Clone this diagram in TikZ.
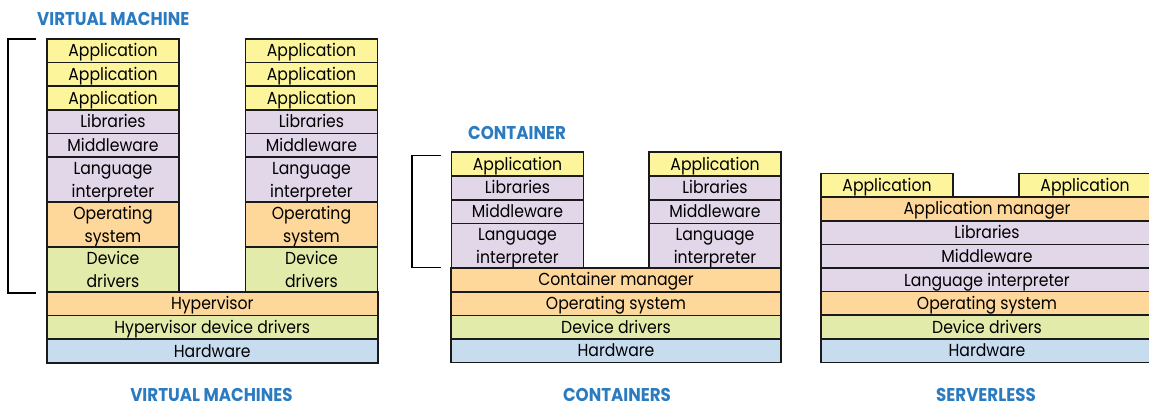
\documentclass[tikz,border=0pt]{standalone}
\usepackage{fontspec}
\setmainfont{Poppins}[FakeStretch=0.9]
\definecolor{cyel}{HTML}{FDF59C}
\definecolor{cpur}{HTML}{E2D6E9}
\definecolor{cora}{HTML}{FED79B}
\definecolor{cgre}{HTML}{E3EBAA}
\definecolor{cblu}{HTML}{C8DCF0}
\definecolor{ctitle}{HTML}{2B7BC1}
\definecolor{cline}{HTML}{1A1A1A}
\tikzset{
  layer/.style={draw=cline, line width=1.6pt, inner sep=0pt, outer sep=0pt, align=center,
    font=\fontsize{17.4}{23}\selectfont, text=black, text height=12.2pt, text depth=0pt},
  one/.style={minimum height=23.5},
  two/.style={minimum height=45, text height=35.2pt, text depth=0pt},
  narrow/.style={minimum width=132},
  wide/.style={minimum width=331},
  app/.style={layer, fill=cyel},
  pur/.style={layer, fill=cpur},
  ora/.style={layer, fill=cora},
  gre/.style={layer, fill=cgre},
  blu/.style={layer, fill=cblu},
  title/.style={font=\bfseries\fontsize{18.5}{20}\selectfont, text=ctitle, inner sep=0pt,
    text height=12.8pt, text depth=0pt},
  bracket/.style={draw=black, line width=1.6pt}
}
\begin{document}
\begin{tikzpicture}[x=1pt,y=-1pt]
\useasboundingbox (0,0) rectangle (1149,403);
% ---------- Virtual machines ----------
\node[title, anchor=west] (vmt) at (37,19) {VIRTUAL MACHINE};
\foreach \cx/\p in {113/l,311.5/r}{
  \node[app,one,narrow] (vm\p a1) at (\cx,50.75) {Application};
  \node[app,one,narrow] (vm\p a2) at (\cx,74.25) {Application};
  \node[app,one,narrow] (vm\p a3) at (\cx,98) {Application};
  \node[pur,one,narrow] (vm\p lib) at (\cx,121.75) {Libraries};
  \node[pur,one,narrow] (vm\p mid) at (\cx,145.25) {Middleware};
  \node[pur,two,narrow] (vm\p li) at (\cx,179.5) {Language\\interpreter};
  \node[ora,two,narrow] (vm\p os) at (\cx,224.5) {Operating\\system};
  \node[gre,two,narrow] (vm\p dd) at (\cx,269.5) {Device\\drivers};
}
\node[ora,one,wide] (hyp) at (212.25,303.75) {Hypervisor};
\node[gre,one,wide] (hdd) at (212.25,327.25) {Hypervisor device drivers};
\node[blu,one,wide] (vmhw) at (212.25,351) {Hardware};
\coordinate (vmb1) at (36,39);
\coordinate (vmb2) at (36,293);
\draw[bracket] (vmb1) -- (8,39) -- (8,293) -- (vmb2);
\node[title] (vmlabel) at (211.5,395) {VIRTUAL MACHINES};
% ---------- Containers ----------
\node[title, anchor=west] (ct) at (468,133) {CONTAINER};
\foreach \cx/\p in {517.5/l,715/r}{
  \node[app,one,narrow] (c\p a) at (\cx,164) {Application};
  \node[pur,one,narrow] (c\p lib) at (\cx,187.85) {Libraries};
  \node[pur,one,narrow] (c\p mid) at (\cx,211.7) {Middleware};
  \node[pur,two,narrow,minimum height=44] (c\p li) at (\cx,245.7) {Language\\interpreter};
}
\node[ora,one,wide,minimum width=330] (cm) at (616,279.85) {Container manager};
\node[ora,one,wide,minimum width=330] (cos) at (616,303.65) {Operating system};
\node[gre,one,wide,minimum width=330] (cdd) at (616,327.15) {Device drivers};
\node[blu,one,wide,minimum width=330] (chw) at (616,350.85) {Hardware};
\coordinate (cb1) at (441,155.7);
\coordinate (cb2) at (441,267.7);
\draw[bracket] (cb1) -- (412,155.7) -- (412,267.7) -- (cb2);
\node[title] (clabel) at (617,395) {CONTAINERS};
% ---------- Serverless ----------
\node[app,one,narrow,minimum height=23] (sa1) at (887,185.2) {Application};
\node[app,one,narrow,minimum height=23] (sa2) at (1085,185.2) {Application};
\node[ora,one,minimum width=332] (sam) at (987,208.85) {Application manager};
\node[pur,one,minimum width=332] (slib) at (987,232.65) {Libraries};
\node[pur,one,minimum width=332] (smid) at (987,256.3) {Middleware};
\node[pur,one,minimum width=332] (sli) at (987,280) {Language interpreter};
\node[ora,one,minimum width=332] (sos) at (987,303.35) {Operating system};
\node[gre,one,minimum width=332] (sdd) at (987,327) {Device drivers};
\node[blu,one,minimum width=332] (shw) at (987,350.65) {Hardware};
\node[title] (slabel) at (986,395) {SERVERLESS};
\end{tikzpicture}
\end{document}
